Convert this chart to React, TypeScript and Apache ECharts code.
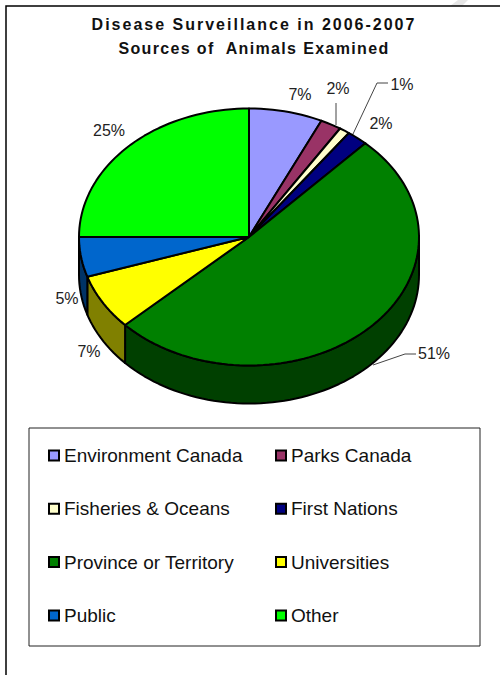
import React, { useEffect, useRef } from "react";
import * as echarts from "echarts";

const titleText = "Disease Surveillance in 2006-2007\nSources of  Animals Examined";
const titleTracking = [2, 1.35];
const categories = [
  "Environment Canada",
  "Parks Canada",
  "Fisheries & Oceans",
  "First Nations",
  "Province or Territory",
  "Universities",
  "Public",
  "Other",
];
const shares = [7, 2, 1, 2, 51, 7, 5, 25];
const topColors = ["#9999FF", "#993366", "#FFFFCC", "#000080", "#008000", "#FFFF00", "#0066CC", "#00FF00"];
const wallColors = ["#4D4D80", "#4D1A33", "#808066", "#000040", "#004000", "#808000", "#003366", "#008000"];

// Where each percentage sits, and the leader drawn to it when it has one.
const labelSpots: [number, number][] = [
  [300, 94], [338, 88], [402, 84], [381, 123], [434, 353], [89, 351], [67, 298], [109, 130],
];
const leaders: ([number, number][] | null)[] = [
  null,
  [[336, 103], [336, 125]],
  [[353, 134], [377, 83], [388, 83]],
  null,
  [[373, 365], [405, 354], [416, 354]],
  null,
  null,
  null,
];

const cx = 249;
const cy = 237;
const rx = 170;
const ry = 128.5;
const depth = 38;
const rimStep = 2;

const total = shares.reduce((a, b) => a + b, 0);
const toDeg = (v: number) => (v / total) * 360;

// Point on the tilted rim, with 0 degrees at twelve o'clock, running clockwise.
const rim = (deg: number, drop = 0): [number, number] => {
  const t = (deg * Math.PI) / 180;
  return [cx + rx * Math.sin(t), cy - ry * Math.cos(t) + drop];
};

const arc = (from: number, to: number, drop = 0) => {
  const pts: [number, number][] = [];
  for (let a = from; a < to; a += rimStep) pts.push(rim(a, drop));
  pts.push(rim(to, drop));
  return pts;
};

const edge = { stroke: "#000", lineWidth: 2, lineJoin: "round" };

const sliceSeries = categories.map((name, i) => ({
  type: "custom",
  name,
  coordinateSystem: "none",
  silent: true,
  itemStyle: { color: topColors[i] },
  data: [[shares[i]]],
  renderItem: (_: unknown, api: any) => {
    const value = api.value(0);
    const start = toDeg(shares.slice(0, i).reduce((a, b) => a + b, 0));
    const end = start + toDeg(value);
    const children: any[] = [];

    // Only the part of the side wall facing the viewer is drawn.
    const wallFrom = Math.max(start, 90);
    const wallTo = Math.min(end, 270);
    if (wallFrom < wallTo) {
      children.push({
        type: "polygon",
        shape: { points: [...arc(wallFrom, wallTo), ...arc(wallFrom, wallTo, depth).reverse()] },
        style: { fill: wallColors[i], ...edge },
      });
    }
    children.push({
      type: "polygon",
      shape: { points: [[cx, cy], ...arc(start, end)] },
      style: { fill: topColors[i], ...edge },
    });
    const lead = leaders[i];
    if (lead) {
      children.push({
        type: "polyline",
        shape: { points: lead },
        style: { fill: null, stroke: "#444", lineWidth: 1 },
      });
    }
    const [lx, ly] = labelSpots[i];
    children.push({
      type: "text",
      x: lx,
      y: ly,
      style: {
        text: `${value}%`,
        font: "16px 'Liberation Sans'",
        fill: "#222",
        align: "center",
        verticalAlign: "middle",
      },
    });
    return { type: "group", children };
  },
}));

const legendBase = {
  orient: "vertical",
  top: 446,
  padding: 0,
  itemWidth: 10,
  itemHeight: 10,
  itemGap: 34.3,
  selectedMode: false,
  icon: "rect",
  itemStyle: { borderColor: "#000", borderWidth: 2 },
  textStyle: { fontFamily: "'Liberation Sans'", fontSize: 19, color: "#111" },
};

export default function App() {
  const ref = useRef<HTMLDivElement>(null);
  useEffect(() => {
    const chart = echarts.init(ref.current!, null, { renderer: "svg", width: 500, height: 675 });
    chart.setOption({
      animation: false,
      backgroundColor: "#fff",
      title: {
        text: titleText,
        left: 249,
        top: 7,
        textAlign: "center",
        textStyle: { fontFamily: "'Liberation Sans'", fontSize: 16, fontWeight: "bold", color: "#111", lineHeight: 24 },
      },
      legend: [
        { ...legendBase, left: 48, data: categories.filter((_, i) => i % 2 === 0) },
        { ...legendBase, left: 275, data: categories.filter((_, i) => i % 2 === 1) },
      ],
      graphic: [
        {
          type: "polygon",
          silent: true,
          z: -2,
          shape: { points: [[458, 0], [468, 0], [462, 6], [450, 6]] },
          style: { fill: "#E6E6E6" },
        },
        {
          type: "rect",
          silent: true,
          z: -1,
          shape: { x: 6, y: 6, width: 600, height: 800 },
          style: { fill: "#fff", stroke: "#000", lineWidth: 1.5 },
        },
        {
          type: "rect",
          silent: true,
          z: -1,
          shape: { x: 29, y: 428, width: 451, height: 218 },
          style: { fill: "#fff", stroke: "#222", lineWidth: 1 },
        },
      ],
      series: sliceSeries,
    });
    // The heading is widely tracked; ECharts has no letter-spacing option for it.
    const headings = titleText.split("\n");
    ref.current!.querySelectorAll("text").forEach((t) => {
      const line = headings.indexOf(t.textContent || "");
      if (line >= 0) t.style.letterSpacing = `${titleTracking[line]}px`;
    });
    return () => chart.dispose();
  }, []);
  return <div ref={ref} style={{ position: "absolute", left: 0, top: 0, width: 500, height: 675 }} />;
}
